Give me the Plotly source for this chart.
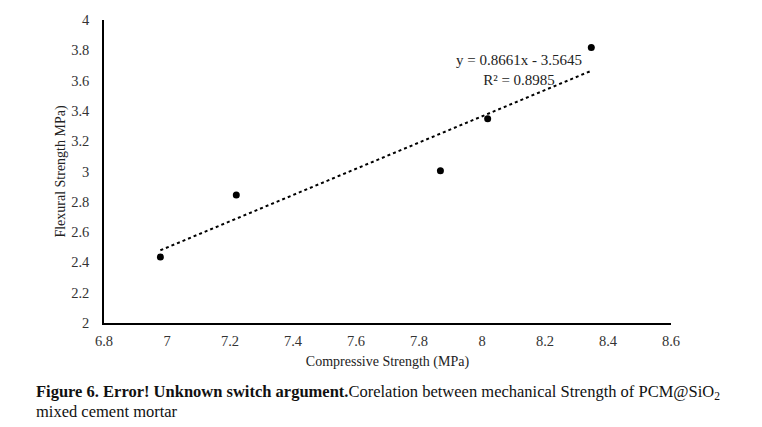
import plotly.graph_objects as go

compressive = [6.979, 7.22, 7.868, 8.018, 8.347]
flexural = [2.435, 2.845, 3.005, 3.349, 3.818]
slope, intercept = 0.8661, -3.5645
x_ticks = [6.8, 7, 7.2, 7.4, 7.6, 7.8, 8, 8.2, 8.4, 8.6]
y_ticks = [2, 2.2, 2.4, 2.6, 2.8, 3, 3.2, 3.4, 3.6, 3.8, 4]

FONT = "Liberation Serif"

trend_x = [min(compressive), max(compressive)]
trend_y = [slope * v + intercept for v in trend_x]

fig = go.Figure()
fig.add_trace(go.Scatter(x=trend_x, y=trend_y, mode="lines",
                         line=dict(color="black", width=2, dash="dot"),
                         hoverinfo="skip", showlegend=False))
fig.add_trace(go.Scatter(x=compressive, y=flexural, mode="markers",
                         marker=dict(color="black", size=7),
                         showlegend=False))

fig.update_layout(
    width=762, height=427,
    margin=dict(l=104, r=91, t=18, b=104),
    paper_bgcolor="white", plot_bgcolor="white",
    font=dict(family=FONT, color="#333", size=14.5),
    xaxis=dict(range=[6.8, 8.6], tickvals=x_ticks, ticktext=[f"{v:g}" for v in x_ticks],
               showgrid=False, zeroline=False, showline=True, linecolor="black", linewidth=1.5,
               ticks="", ticklabelstandoff=4, tickfont=dict(family=FONT, size=14.5, color="#333"),
               title=dict(text="Compressive Strength (MPa)", font=dict(family=FONT, size=14, color="#222"), standoff=8)),
    yaxis=dict(range=[2, 4], tickvals=y_ticks, ticktext=[f"{v:g}" for v in y_ticks],
               showgrid=False, zeroline=False, showline=True, linecolor="black", linewidth=1.5,
               ticks="", ticklabelstandoff=10, tickfont=dict(family=FONT, size=14.5, color="#333"),
               title=dict(text="Flexural Strength MPa)", font=dict(family=FONT, size=14, color="#222"), standoff=2)),
)

fig.add_annotation(x=8.119, y=3.668, xref="x", yref="y", showarrow=False,
                   text="y = 0.8661x - 3.5645<br>R² = 0.8985", align="center",
                   font=dict(size=15, family=FONT, color="#222"))

fig.add_annotation(xref="paper", yref="paper", x=-70/567, y=-(392.7-323)/305,
                   xanchor="left", yanchor="middle", showarrow=False,
                   text="<b>Figure 6. Error! Unknown switch argument.</b>Corelation between mechanical Strength of PCM@SiO<sub>2</sub>",
                   font=dict(size=16.5, family=FONT, color="#111"))
fig.add_annotation(xref="paper", yref="paper", x=-70/567, y=-(411.7-323)/305,
                   xanchor="left", yanchor="middle", showarrow=False,
                   text="mixed cement mortar",
                   font=dict(size=16.5, family=FONT, color="#111"))

fig.write_html("out.html")
